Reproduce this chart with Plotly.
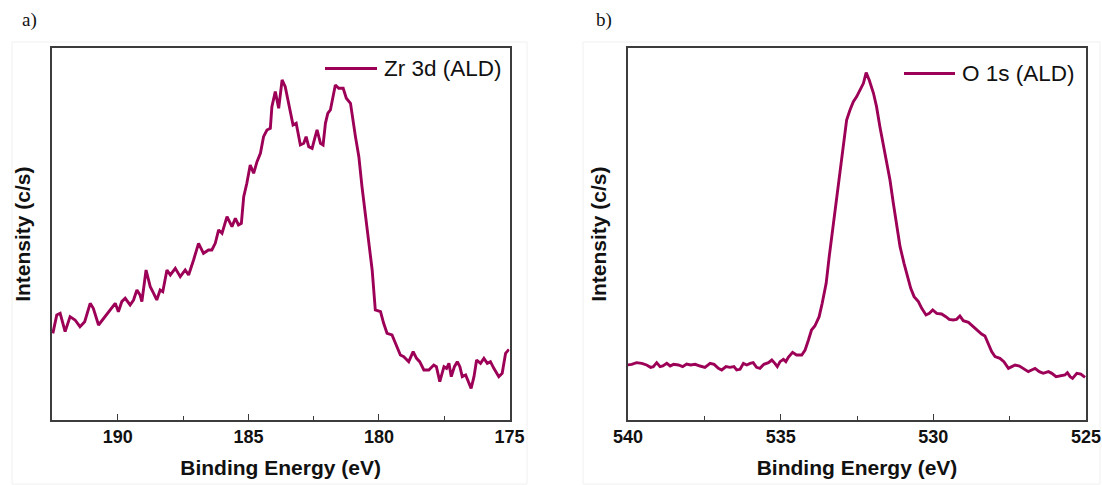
import plotly.graph_objects as go

# Zr 3d region (ALD film): binding energy (eV) and intensity (c/s)
zr_energy = [
    192.49, 192.34, 192.21, 192.02, 191.83, 191.64, 191.45, 191.27, 191.06, 190.94,
    190.74, 190.55, 190.36, 190.23, 190.10, 189.98, 189.85, 189.72, 189.53, 189.40,
    189.27, 189.15, 189.08, 188.92, 188.76, 188.63, 188.51, 188.38, 188.28, 188.12,
    187.99, 187.80, 187.61, 187.42, 187.29, 187.10, 186.91, 186.72, 186.53, 186.40,
    186.27, 186.14, 186.01, 185.82, 185.63, 185.50, 185.38, 185.27, 185.18, 185.06,
    184.93, 184.80, 184.67, 184.54, 184.42, 184.29, 184.16, 184.10, 183.97, 183.84,
    183.71, 183.59, 183.46, 183.29, 183.17, 183.01, 182.88, 182.79, 182.69, 182.56,
    182.46, 182.37, 182.24, 182.14, 182.05, 181.96, 181.86, 181.67, 181.54, 181.37,
    181.25, 181.09, 180.90, 180.77, 180.65, 180.52, 180.39, 180.26, 180.14, 179.94,
    179.82, 179.69, 179.50, 179.37, 179.18, 179.05, 178.86, 178.69, 178.56, 178.44,
    178.28, 178.09, 177.90, 177.80, 177.67, 177.51, 177.41, 177.32, 177.23, 177.11,
    177.00, 176.90, 176.81, 176.68, 176.59, 176.47, 176.36, 176.26, 176.11, 175.98,
    175.85, 175.73, 175.60, 175.41, 175.28, 175.15, 175.02,
]
zr_counts = [
    2900, 3450, 3500, 2950, 3400, 3300, 3100, 3250, 3800, 3650,
    3150, 3350, 3550, 3700, 3800, 3550, 3850, 3950, 3750, 3900,
    4200, 4050, 3850, 4800, 4300, 4100, 3900, 4200, 4150, 4800,
    4650, 4850, 4600, 4800, 4650, 5100, 5600, 5300, 5400, 5400,
    5600, 6000, 5900, 6400, 6100, 6350, 6150, 6200, 7000, 7400,
    7950, 7700, 8050, 8300, 8800, 9000, 9050, 9700, 10150, 9650,
    10500, 10300, 9800, 9150, 9200, 8550, 8600, 8800, 8500, 8450,
    8750, 9000, 8600, 8550, 9200, 9500, 9600, 10350, 10250, 10250,
    9950, 9800, 8800, 8200, 7300, 6400, 5600, 4800, 3600, 3550,
    3200, 2900, 2850, 2600, 2250, 2200, 2050, 2350, 2150, 2050,
    1800, 1800, 1950, 1900, 1450, 1900, 1850, 2000, 1600, 1900,
    2050, 1900, 1600, 1650, 1500, 1250, 1600, 2100, 2000, 2150,
    2000, 2050, 1850, 1600, 1700, 2300, 2420,
]

# O 1s region (ALD film)
o_energy = [
    540.02, 539.88, 539.72, 539.55, 539.39, 539.26, 539.17, 539.06, 538.95, 538.86,
    538.73, 538.62, 538.51, 538.35, 538.21, 538.08, 537.95, 537.80, 537.64, 537.48,
    537.31, 537.18, 537.04, 536.93, 536.79, 536.66, 536.53, 536.44, 536.33, 536.22,
    536.11, 536.00, 535.90, 535.79, 535.68, 535.55, 535.40, 535.29, 535.19, 535.11,
    535.02, 534.91, 534.83, 534.75, 534.61, 534.48, 534.31, 534.20, 534.09, 533.99,
    533.88, 533.74, 533.64, 533.51, 533.41, 533.30, 533.19, 533.08, 532.97, 532.84,
    532.73, 532.62, 532.51, 532.40, 532.29, 532.20, 532.10, 531.96, 531.86, 531.75,
    531.64, 531.53, 531.42, 531.31, 531.20, 531.09, 530.96, 530.85, 530.74, 530.63,
    530.49, 530.38, 530.24, 530.13, 530.02, 529.89, 529.73, 529.59, 529.48, 529.35,
    529.24, 529.13, 529.02, 528.85, 528.69, 528.58, 528.42, 528.31, 528.20, 528.09,
    527.98, 527.82, 527.69, 527.54, 527.43, 527.32, 527.18, 527.05, 526.89, 526.78,
    526.67, 526.53, 526.40, 526.23, 526.12, 525.98, 525.85, 525.69, 525.61, 525.52,
    525.44, 525.30, 525.17, 525.03,
]
o_counts = [
    1950, 1970, 2020, 2000, 1950, 1880, 1900, 2020, 1900, 1920,
    2000, 1920, 1970, 1950, 1900, 1980, 1950, 1970, 1920, 1880,
    2000, 1970, 1850, 1800, 1900, 1880, 1900, 1800, 1820, 2000,
    1950, 2000, 2020, 1880, 1850, 1970, 2020, 2100, 2000, 1900,
    2050, 2120, 2050, 2180, 2330, 2250, 2250, 2400, 2700, 3000,
    3120, 3400, 3800, 4400, 5200, 6000, 6800, 7600, 8500, 9300,
    9600, 9850, 10000, 10200, 10400, 10720, 10500, 10100, 9700, 9100,
    8550, 8000, 7500, 6800, 6100, 5500, 5000, 4600, 4250, 4000,
    3850, 3650, 3450, 3500, 3600, 3500, 3480, 3400, 3320, 3300,
    3320, 3420, 3280, 3230, 3100, 3000, 2880, 2820, 2600, 2350,
    2200, 2150, 2050, 1850, 1900, 1950, 1920, 1850, 1750, 1800,
    1850, 1750, 1700, 1750, 1700, 1600, 1620, 1650, 1720, 1600,
    1550, 1700, 1680, 1580,
]

zr_ticks = [190, 185, 180, 175]
zr_minor = [187.5, 182.5, 177.5]
o_ticks = [540, 535, 530, 525]
o_minor = [537.5, 532.5, 527.5]

zr_name = "Zr 3d (ALD)"
o_name = "O 1s (ALD)"
x_title = "Binding Energy (eV)"
y_title = "Intensity (c/s)"

LINE = "#9c0057"
FRAME = "#3c3c3c"
SANS = "Liberation Sans, Arial, sans-serif"
W, H = 1102, 485

fig = go.Figure()
fig.add_trace(go.Scatter(x=zr_energy, y=zr_counts, mode="lines", name=zr_name,
                         line=dict(color=LINE, width=2.9), showlegend=False,
                         xaxis="x", yaxis="y"))
fig.add_trace(go.Scatter(x=o_energy, y=o_counts, mode="lines", name=o_name,
                         line=dict(color=LINE, width=2.9), showlegend=False,
                         xaxis="x2", yaxis="y2"))


def px(v):
    return v / W


def py(v):
    return 1 - v / H


def x_axis(domain, rng, ticks, minor):
    return dict(
        domain=domain, range=rng, autorange=False, automargin=False,
        showline=True, mirror=True, linecolor=FRAME, linewidth=1.5,
        ticks="inside", ticklen=6, tickwidth=1.3, tickcolor=FRAME,
        tickvals=ticks, ticktext=[str(t) for t in ticks],
        minor=dict(ticks="inside", ticklen=4, tickwidth=1.3, tickcolor=FRAME,
                   tickvals=minor),
        tickfont=dict(family=SANS, size=18, color="#111111", weight="bold"),
        showgrid=False, zeroline=False,
        title=dict(text=x_title, standoff=14,
                   font=dict(family=SANS, size=21, color="#111111", weight="bold")),
    )


def y_axis(domain, anchor):
    return dict(
        domain=domain, range=[300, 11450], autorange=False, anchor=anchor,
        automargin=False,
        showline=True, mirror=True, linecolor=FRAME, linewidth=1.5,
        ticks="", showticklabels=False, showgrid=False, zeroline=False,
        title=dict(text=y_title, standoff=14,
                   font=dict(family=SANS, size=21, color="#111111", weight="bold")),
    )


ydom = [py(420), py(48.3)]
fig.update_layout(
    width=W, height=H,
    margin=dict(l=0, r=0, t=0, b=0),
    paper_bgcolor="white", plot_bgcolor="white",
    xaxis=x_axis([px(51.8), px(509.5)], [192.53, 175], zr_ticks, zr_minor),
    yaxis=y_axis(ydom, "x"),
    xaxis2=x_axis([px(628), px(1086)], [540, 525], o_ticks, o_minor) | dict(anchor="y2"),
    yaxis2=y_axis(ydom, "x2"),
)

# faint panel outlines
for x0, x1 in [(12, 527), (583, 1100)]:
    fig.add_shape(type="rect", xref="paper", yref="paper",
                  x0=px(x0), x1=px(x1), y0=py(484), y1=py(42),
                  line=dict(color="#f0f0f0", width=1), layer="below")

# legend entries: line sample plus label
for (lx0, lx1, ly, name) in [(325, 377, 68.5, zr_name), (904, 955, 73.5, o_name)]:
    fig.add_shape(type="line", xref="paper", yref="paper",
                  x0=px(lx0), x1=px(lx1), y0=py(ly), y1=py(ly),
                  line=dict(color=LINE, width=2.9))
    fig.add_annotation(xref="paper", yref="paper", x=px(lx1 + 5), y=py(ly),
                       xanchor="left", yanchor="middle", showarrow=False,
                       text=name, font=dict(family=SANS, size=22.5, color="#111111"))

# panel letters
for (lx, label) in [(20, "a)"), (594, "b)")]:
    fig.add_annotation(xref="paper", yref="paper", x=px(lx), y=py(20),
                       xanchor="left", yanchor="middle", showarrow=False,
                       text=label, font=dict(family="Liberation Serif, Times New Roman, serif",
                                             size=19, color="#111111"))

fig.write_html("out.html")
